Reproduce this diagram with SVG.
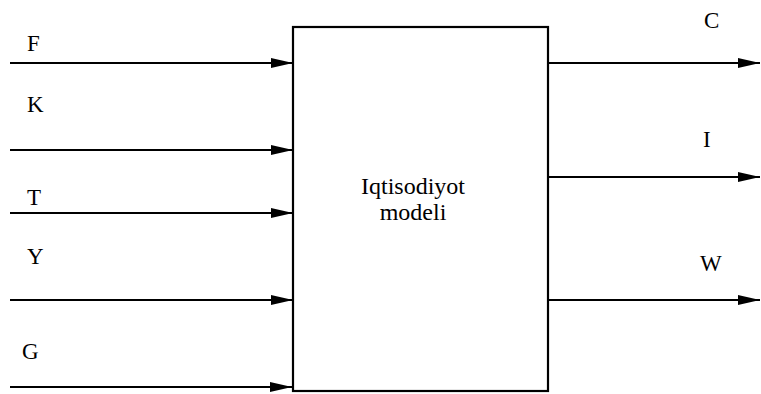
<svg xmlns="http://www.w3.org/2000/svg" width="761" height="394" viewBox="0 0 761 394">
<style>
.lbl{font-family:"Liberation Serif","Times New Roman",serif;font-size:23px;fill:#000}
.ctr{font-family:"Liberation Serif","Times New Roman",serif;font-size:24px;fill:#000;text-anchor:middle}
.ln{stroke:#000;stroke-width:2.2;fill:none}
</style>
<defs>
<marker id="ah" viewBox="0 0 22 10" refX="22" refY="5" markerWidth="22" markerHeight="10" markerUnits="userSpaceOnUse" orient="auto">
<path d="M0,0 L22,5 L0,10 Z" fill="#000"/>
</marker>
</defs>
<rect width="761" height="394" fill="#fff"/>
<g id="model">
<rect x="293" y="27" width="255" height="364" fill="#fff" stroke="#000" stroke-width="2.2"/>
<text class="ctr" x="413" y="194">Iqtisodiyot</text>
<text class="ctr" x="413" y="220">modeli</text>
</g>
<g id="connectors">
<line class="ln" x1="10" y1="63" x2="293" y2="63" marker-end="url(#ah)"/>
<line class="ln" x1="10" y1="150" x2="293" y2="150" marker-end="url(#ah)"/>
<line class="ln" x1="10" y1="213" x2="293" y2="213" marker-end="url(#ah)"/>
<line class="ln" x1="10" y1="300" x2="293" y2="300" marker-end="url(#ah)"/>
<line class="ln" x1="10" y1="387" x2="292" y2="387" marker-end="url(#ah)"/>
<line class="ln" x1="548" y1="63" x2="760" y2="63" marker-end="url(#ah)"/>
<line class="ln" x1="548" y1="177" x2="760" y2="177" marker-end="url(#ah)"/>
<line class="ln" x1="548" y1="300" x2="760" y2="300" marker-end="url(#ah)"/>
</g>
<g id="labels">
<text class="lbl" x="27" y="51">F</text>
<text class="lbl" x="27" y="112">K</text>
<text class="lbl" x="27" y="205">T</text>
<text class="lbl" x="27" y="264">Y</text>
<text class="lbl" x="22" y="359">G</text>
<text class="lbl" x="704" y="28">C</text>
<text class="lbl" x="703" y="147">I</text>
<text class="lbl" x="700" y="271">W</text>
</g>
</svg>
